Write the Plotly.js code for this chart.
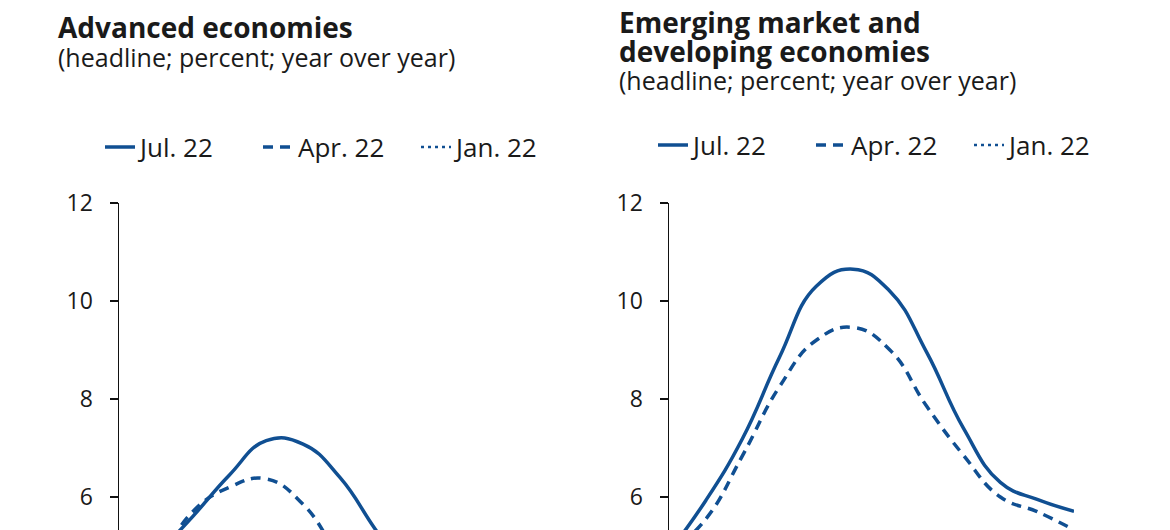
<!DOCTYPE html>
<html>
<head>
<meta charset="utf-8">
<script src="https://cdn.plot.ly/plotly-3.0.1.min.js"></script>
<style>
  html, body { margin: 0; padding: 0; background: #fff; }
  #plotDiv { width: 1170px; height: 530px; }
</style>
</head>
<body>
<div id="plotDiv"></div>
<script>
let quarters = ['2021:Q1', '2021:Q2', '2021:Q3', '2021:Q4', '2022:Q1', '2022:Q2',
  '2022:Q3', '2022:Q4', '2023:Q1', '2023:Q2', '2023:Q3', '2023:Q4'];

// Advanced economies (headline inflation, percent y/y)
let aeJul = [4.0, 4.8, 5.6, 6.45, 7.15, 7.08, 6.4, 5.3, 4.3, 3.6, 3.2, 3.0];
let aeApr = [3.8, 4.6, 5.7, 6.2, 6.37, 5.85, 4.8, 4.0, 3.3, 2.8, 2.5, 2.3];
let aeJan = [1.8, 2.6, 3.5, 4.2, 4.5, 4.3, 3.8, 3.2, 2.6, 2.3, 2.1, 2.0];

// Emerging market and developing economies
let emJul = [4.88, 5.93, 7.2, 8.85, 10.3, 10.65, 10.2, 8.95, 7.4, 6.3, 5.95, 5.71];
let emApr = [4.85, 5.55, 6.85, 8.25, 9.2, 9.46, 9.0, 7.85, 6.85, 6.0, 5.7, 5.33];
let emJan = [4.3, 4.8, 5.0, 5.2, 5.2, 5.0, 4.7, 4.4, 4.2, 4.0, 3.9, 3.8];

let vintages = ['Jul. 22', 'Apr. 22', 'Jan. 22'];
let dashes = ['solid', '10px,7px', '3px,4px'];
let blue = '#104f92';
let font = 'Open Sans, Lato, sans-serif';
let ink = '#1a1a1a';
let subtitle = '(headline; percent; year over year)';

function line(y, i, xa, ya, leg) {
  return {
    x: quarters, y: y, xaxis: xa, yaxis: ya, legend: leg,
    type: 'scatter', mode: 'lines', name: vintages[i],
    line: { color: blue, width: i === 2 ? 2.5 : 3.5, dash: dashes[i], shape: 'spline', smoothing: 1.3 },
    hoverinfo: 'skip'
  };
}

let data = [
  line(aeJul, 0, 'x', 'y', 'legend'),
  line(aeApr, 1, 'x', 'y', 'legend'),
  line(aeJan, 2, 'x', 'y', 'legend'),
  line(emJul, 0, 'x2', 'y2', 'legend2'),
  line(emApr, 1, 'x2', 'y2', 'legend2'),
  line(emJan, 2, 'x2', 'y2', 'legend2'),
];

let W = 1170, H = 530, plotTop = 203;
let px = (v) => v / W;                    // pixel -> paper x
let py = (v) => (H - v) / (H - plotTop);  // pixel -> paper y

let yAxis = {
  range: [12 - (H - plotTop) / 49, 12],
  tickvals: [6, 8, 10, 12],
  showline: true, linecolor: '#111', linewidth: 1.5,
  ticks: 'outside', ticklen: 8, tickwidth: 1.5, tickcolor: '#111',
  ticklabelstandoff: 12,
  showgrid: false, zeroline: false,
  tickfont: { family: font, size: 23, color: ink },
};
let xAxis = { range: [0, 11], visible: false, type: 'category' };

let legendBase = {
  orientation: 'h', xanchor: 'left', yanchor: 'middle',
  font: { family: font, size: 26, color: ink },
  entrywidthmode: 'pixels', entrywidth: 113,
  bgcolor: 'rgba(0,0,0,0)',
};

// title lines in bold, subtitle below; line spacing comes from the base size
function heading(lines, x, y) {
  let t = lines.map((s) => '<span style="font-size:28px"><b>' + s + '</b></span>');
  t.push('<span style="font-size:25px">' + subtitle + '</span>');
  return {
    text: t.join('<br>'), xref: 'paper', yref: 'paper', x: px(x), y: py(y),
    xanchor: 'left', yanchor: 'top', align: 'left', showarrow: false,
    font: { family: font, size: 22, color: ink },
  };
}

let layout = {
  width: W, height: H,
  margin: { l: 0, r: 0, t: plotTop, b: 0 },
  paper_bgcolor: '#fff', plot_bgcolor: '#fff',
  showlegend: true,
  xaxis: Object.assign({ domain: [px(119), px(524)], anchor: 'y' }, xAxis),
  xaxis2: Object.assign({ domain: [px(669), px(1074)], anchor: 'y2' }, xAxis),
  yaxis: Object.assign({ anchor: 'x' }, yAxis),
  yaxis2: Object.assign({ anchor: 'x2' }, yAxis),
  legend: Object.assign({}, legendBase, { x: px(100), y: py(147) }),
  legend2: Object.assign({}, legendBase, { x: px(653), y: py(145) }),
  annotations: [
    heading(['Advanced economies'], 56, 6),
    heading(['Emerging market and', 'developing economies'], 617, 1),
  ],
};

Plotly.newPlot('plotDiv', data, layout, { displayModeBar: false, staticPlot: true });
</script>
</body>
</html>
